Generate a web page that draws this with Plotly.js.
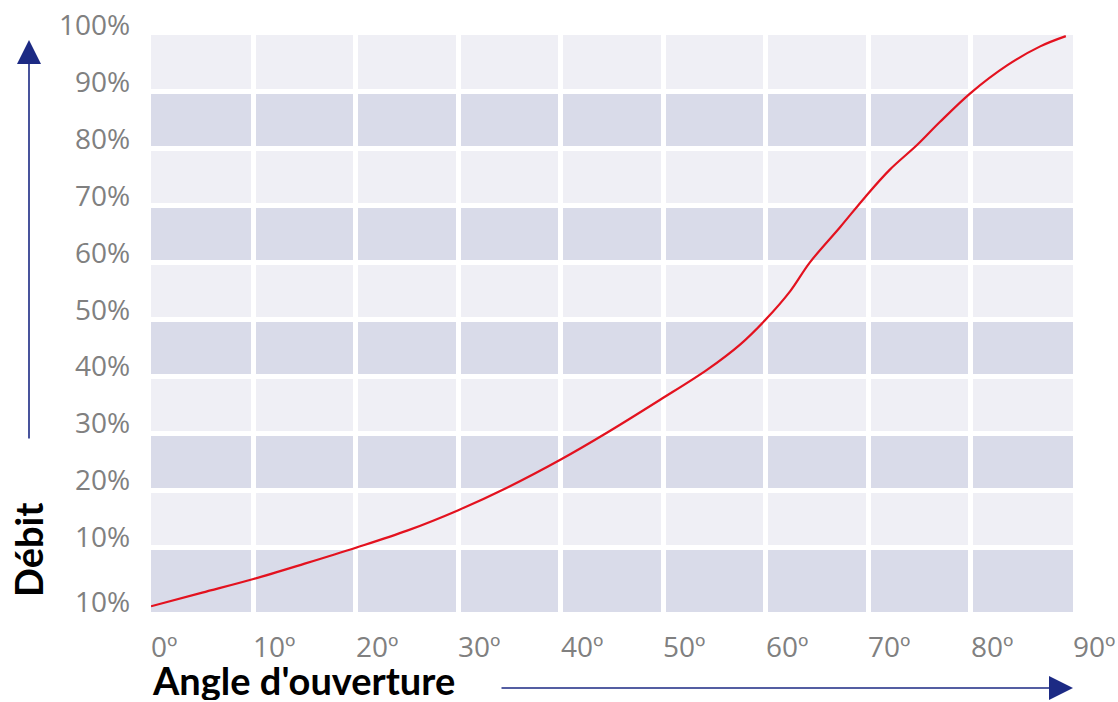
<!DOCTYPE html>
<html>
<head>
<meta charset="utf-8">
<script src="https://cdn.plot.ly/plotly-3.0.1.min.js"></script>
<style>html,body{margin:0;padding:0;background:#fff;}#chart{width:1118px;height:702px;}</style>
</head>
<body>
<div id="chart"></div>
<script>
// Data
const angles = [0, 5, 10, 15, 20, 25, 30, 34.7, 40, 44.5, 49.7, 54.3, 57.5, 60, 62.4, 64.3, 67.3, 69.7, 72.1, 74.8, 77, 80, 83.6, 86.8, 89.3];
const debit  = [-0.4, 2.0, 4.4, 7.1, 9.9, 12.9, 16.5, 20.4, 25.4, 30.1, 35.9, 41.2, 45.6, 50.0, 55.0, 60.0, 66.3, 71.5, 76.3, 80.7, 84.7, 89.8, 94.7, 98.0, 99.8];
const xTickVals = [0, 10, 20, 30, 40, 50, 60, 70, 80, 90];
const xTickText = ['0º', '10º', '20º', '30º', '40º', '50º', '60º', '70º', '80º', '90º'];
const yTickVals = [0, 10, 20, 30, 40, 50, 60, 70, 80, 90, 100];
const yTickText = ['10%', '10%', '20%', '30%', '40%', '50%', '60%', '70%', '80%', '90%', '100%'];
const xLabel = "Angle d'ouverture";
const yLabel = 'Débit';

const LIGHT = '#efeff5';
const DARK = '#d9dbe9';
const NAVY = '#1c2a84';
const xRange = [0, 90];
const yRange = [-1.4, 100];

// inner grid lines (edges of the plot carry no line)
const xGrid = xTickVals.filter(v => v > xRange[0] && v < xRange[1]);
const yGrid = yTickVals.filter(v => v > 0 && v < yRange[1]);

// alternating darker rows
const shapes = [];
for (let i = 0; i < yTickVals.length - 1; i += 2) {
  shapes.push({
    type: 'rect', layer: 'below', xref: 'paper', yref: 'y',
    x0: 0, x1: 1, y0: i === 0 ? yRange[0] : yTickVals[i], y1: yTickVals[i + 1],
    fillcolor: DARK, line: {width: 0}
  });
}

const tickFont = {family: '"Open Sans", sans-serif', size: 28, color: '#808080'};
const titleFont = {family: 'Lato, sans-serif', size: 38, color: '#000', weight: 'bold'};

const annotations = [];
// y tick labels
yTickVals.forEach((v, i) => {
  annotations.push({
    xref: 'paper', yref: 'y', x: 0, y: v === 0 ? yRange[0] : v,
    xanchor: 'right', yanchor: 'middle', xshift: -19, yshift: 11,
    text: yTickText[i], showarrow: false, font: tickFont
  });
});
// x tick labels
xTickVals.forEach((v, i) => {
  annotations.push({
    xref: 'x', yref: 'paper', x: v, y: 0,
    xanchor: 'left', yanchor: 'middle', xshift: -1, yshift: -34,
    height: 28, valign: 'middle', borderpad: 0,
    text: xTickText[i], showarrow: false, font: tickFont
  });
});
// arrows and axis names
annotations.push(
  {xref: 'paper', yref: 'paper', x: (29 - 151) / 922, y: (612 - 40) / 577,
   ax: 0, ay: 400, axref: 'pixel', ayref: 'pixel', text: '', showarrow: true,
   arrowhead: 2, arrowsize: 3, arrowwidth: 1.6, arrowcolor: NAVY},
  {xref: 'paper', yref: 'paper', x: 1.0, y: (612 - 688) / 577,
   ax: -573, ay: 0, axref: 'pixel', ayref: 'pixel', text: '', showarrow: true,
   arrowhead: 2, arrowsize: 3, arrowwidth: 1.6, arrowcolor: NAVY},
  {xref: 'paper', yref: 'paper', x: (28 - 151) / 922, y: (612 - 550) / 577,
   text: yLabel, textangle: -90, showarrow: false, xanchor: 'center', yanchor: 'middle',
   font: titleFont},
  {xref: 'paper', yref: 'paper', x: 0, y: (612 - 680) / 577,
   text: xLabel, showarrow: false, xanchor: 'left', yanchor: 'middle',
   height: 40, valign: 'middle', borderpad: 0,
   font: titleFont}
);

const layout = {
  width: 1118, height: 702,
  margin: {l: 151, r: 45, t: 35, b: 90},
  paper_bgcolor: '#ffffff',
  plot_bgcolor: LIGHT,
  showlegend: false,
  shapes: shapes,
  xaxis: {
    range: xRange, tickvals: xGrid, showticklabels: false,
    showgrid: true, gridcolor: '#ffffff', gridwidth: 5,
    zeroline: false, showline: false, ticks: '', fixedrange: true
  },
  yaxis: {
    range: yRange, tickvals: yGrid, showticklabels: false,
    showgrid: true, gridcolor: '#ffffff', gridwidth: 5,
    zeroline: false, showline: false, ticks: '', fixedrange: true
  },
  annotations: annotations
};

const trace = {
  type: 'scatter', mode: 'lines', x: angles, y: debit,
  line: {color: '#e3121f', width: 2.2, shape: 'spline', smoothing: 1.0},
  hoverinfo: 'skip'
};

Plotly.newPlot('chart', [trace], layout, {displayModeBar: false, staticPlot: true});
</script>
</body>
</html>
